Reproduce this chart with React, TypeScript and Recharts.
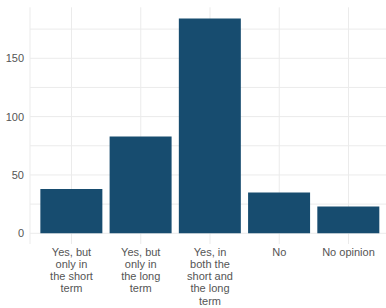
import { Bar, BarChart, CartesianGrid, XAxis, YAxis } from "recharts";

const categories = [
  "Yes, but\nonly in\nthe short\nterm",
  "Yes, but\nonly in\nthe long\nterm",
  "Yes, in\nboth the\nshort and\nthe long\nterm",
  "No",
  "No opinion",
];
const counts = [38, 83, 184, 35, 23];
const yTicks = [0, 50, 100, 150];
const gridValues = [0, 25, 50, 75, 100, 125, 150, 175];

const data = categories.map((answer, i) => ({ answer, count: counts[i] }));

const MultiLineTick = (props: any) => {
  const { x, y, payload } = props;
  const lines = String(payload.value).split("\n");
  return (
    <text
      x={x}
      y={y}
      textAnchor="middle"
      fill="#555"
      fontSize={11}
      fontFamily="'Liberation Sans', Arial, sans-serif"
    >
      {lines.map((line, i) => (
        <tspan key={i} x={x} dy={i === 0 ? 11.5 : 12.25}>
          {line}
        </tspan>
      ))}
    </text>
  );
};

export default function App() {
  return (
    <div
      style={{
        position: "fixed",
        top: 0,
        left: 0,
        width: 386,
        height: 308,
        overflow: "hidden",
        background: "#fff",
      }}
    >
      <BarChart
        width={390}
        height={308}
        data={data}
        margin={{ top: 7.3, right: 0, bottom: 0, left: 0 }}
        barCategoryGap="5%"
      >
        <CartesianGrid stroke="#ebebeb" horizontalValues={gridValues} />
        <XAxis
          dataKey="answer"
          interval={0}
          height={64}
          tickLine={false}
          axisLine={false}
          tickSize={0}
          tickMargin={0}
          padding={{ left: 6.9, right: 6.9 }}
          tick={<MultiLineTick />}
        />
        <YAxis
          type="number"
          width={30}
          domain={[-9.2, 193.7]}
          allowDataOverflow
          ticks={yTicks}
          tickLine={false}
          axisLine={false}
          tickSize={0}
          tickMargin={6}
          tick={{
            fill: "#555",
            fontSize: 11,
            fontFamily: "'Liberation Sans', Arial, sans-serif",
          }}
        />
        <Bar dataKey="count" fill="#174c6f" isAnimationActive={false} />
      </BarChart>
    </div>
  );
}
